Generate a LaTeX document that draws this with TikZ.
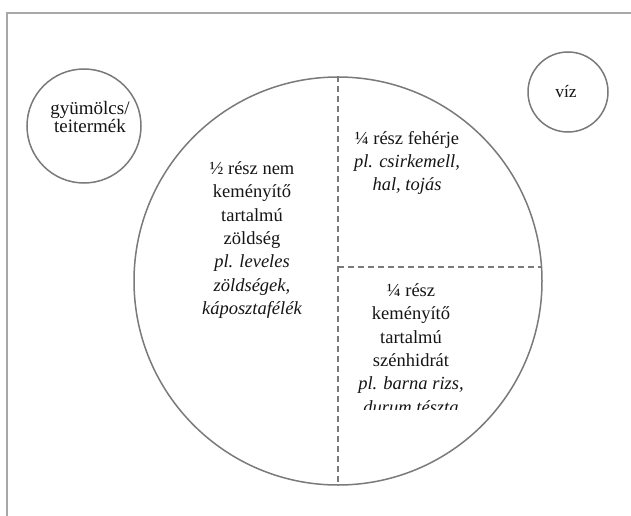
\documentclass[tikz,border=0pt]{standalone}
\usepackage{fontspec}
\setmainfont{Liberation Serif}
\definecolor{linegray}{HTML}{7A7A7A}
\definecolor{framegray}{HTML}{A8A8A8}
\definecolor{textcol}{HTML}{151515}
\begin{document}
\begin{tikzpicture}[x=1pt,y=-1pt,
  ring/.style={draw=linegray, line width=1.5pt, circle, inner sep=0pt},
  divider/.style={draw=linegray, line width=1.5pt, dash pattern=on 6pt off 4pt},
  bigtxt/.style={align=center, text=textcol, font=\fontsize{18.5}{23.3}\selectfont, inner sep=0pt},
  smalltxt/.style={align=center, text=textcol, font=\fontsize{19}{17.5}\selectfont, inner sep=0pt}]
\useasboundingbox[fill=white] (0,0) rectangle (631,516);
% frame
\coordinate (fb) at (7,516);
\coordinate (ftl) at (7,13);
\coordinate (fr) at (631,13);
\draw[framegray, line width=2pt] (fb) -- (ftl) -- (fr);
% circles
\node[ring, minimum size=408pt] (plate) at (338,281) {};
\node[ring, minimum size=114pt] (fruit) at (84,126) {};
\node[ring, minimum size=80pt] (water) at (568,92) {};
% dividers
\coordinate (hl) at (338,267);
\coordinate (hr) at (541.5,267);
\draw[divider] (plate.north) -- (plate.south);
\draw[divider] (hl) -- (hr);
% texts
\node[smalltxt] (fruittxt) at (90,117) {gyümölcs/\\teitermék};
\node[smalltxt, font=\fontsize{17.5}{17.5}\selectfont] (watertxt) at (566,92) {víz};
\node[bigtxt] (veg) at (252,240) {½ rész nem\\keményítő\\tartalmú\\zöldség\\\textit{pl. leveles}\\\textit{zöldségek,}\\\textit{káposztafélék}};
\node[bigtxt] (prot) at (407,163) {¼ rész fehérje\\\textit{pl. csirkemell,}\\\textit{hal, tojás}};
\begin{scope}
\clip (330,270) rectangle (540,409);
\node[bigtxt] (carb) at (411,348.5) {¼ rész\\keményítő\\tartalmú\\szénhidrát\\\textit{pl. barna rizs,}\\\textit{durum tészta}};
\end{scope}
\end{tikzpicture}
\end{document}
